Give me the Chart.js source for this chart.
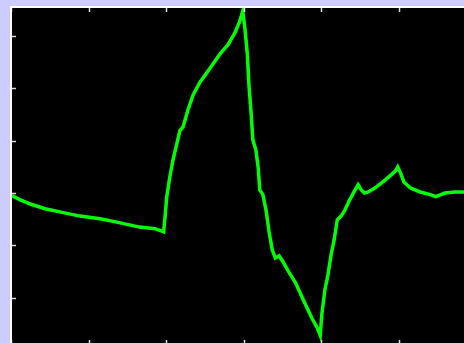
<!DOCTYPE html>
<html>
<head>
<meta charset="utf-8">
<script src="https://cdn.jsdelivr.net/npm/chart.js@4/dist/chart.umd.min.js"></script>
<style>
  html, body { margin: 0; padding: 0; background: #ccccff; overflow: hidden; }
  #wrap { position: absolute; left: 0; top: 0; }
</style>
</head>
<body>
<div id="wrap"><canvas id="c" width="476" height="346"></canvas></div>
<script>
// Signal trace samples (time, amplitude)
const timeValues = [
  0.01, 0.12, 0.25, 0.44, 0.63, 0.89, 1.15, 1.41, 1.66, 1.86, 1.97,
  1.99, 2.01, 2.05, 2.09, 2.12, 2.18, 2.22, 2.28, 2.35, 2.44, 2.50,
  2.59, 2.70, 2.80, 2.89, 2.95, 2.99, 3.02, 3.05, 3.07, 3.10, 3.12,
  3.16, 3.19, 3.21, 3.25, 3.29, 3.33, 3.37, 3.41, 3.46, 3.51, 3.57,
  3.67, 3.79, 3.88, 3.95, 3.99, 4.01, 4.05, 4.09, 4.13, 4.17, 4.21,
  4.26, 4.31, 4.37, 4.44, 4.48, 4.52, 4.56, 4.61, 4.70, 4.83, 4.96,
  4.99, 5.03, 5.07, 5.15, 5.28, 5.41, 5.48, 5.60, 5.73, 5.85, 6.00
];
const amplitudeValues = [
  -0.05, -0.13, -0.21, -0.30, -0.36, -0.44, -0.49, -0.57, -0.65, -0.68, -0.74,
  -0.42, -0.07, 0.31, 0.63, 0.82, 1.19, 1.26, 1.57, 1.87, 2.12, 2.24,
  2.43, 2.66, 2.83, 3.06, 3.27, 3.47, 3.12, 2.64, 2.07, 1.49, 1.02,
  0.82, 0.48, 0.06, -0.03, -0.32, -0.74, -1.08, -1.24, -1.20, -1.31, -1.47,
  -1.71, -2.10, -2.38, -2.57, -2.72, -2.32, -1.85, -1.56, -1.18, -0.89, -0.51,
  -0.44, -0.32, -0.13, 0.06, 0.16, 0.06, 0.00, 0.02, 0.10, 0.25, 0.42,
  0.50, 0.37, 0.21, 0.10, 0.02, -0.03, -0.07, 0.00, 0.02, 0.02, 0.02
];
// Axis tick positions
const timeTicks = [0, 1, 2, 3, 4, 5, 6];
const amplitudeTicks = [-2, -1, 0, 1, 2, 3];

const points = timeValues.map((t, i) => ({ x: t, y: amplitudeValues[i] }));

// Black plot background, white frame and inward tick marks
const framePlugin = {
  id: 'frame',
  beforeDraw(chart) {
    const { ctx, chartArea: a } = chart;
    ctx.save();
    ctx.fillStyle = '#000000';
    ctx.fillRect(a.left, a.top, a.right - a.left, a.bottom - a.top);
    ctx.restore();
  },
  afterDatasetsDraw(chart) {
    const { ctx, chartArea: a, scales } = chart;
    const len = 5;
    ctx.save();
    ctx.strokeStyle = '#dcdcdc';
    ctx.lineWidth = 1.5;
    ctx.beginPath();
    timeTicks.forEach(v => {
      const px = Math.round(scales.x.getPixelForValue(v)) + 0.5;
      ctx.moveTo(px, a.top); ctx.lineTo(px, a.top + len);
      ctx.moveTo(px, a.bottom); ctx.lineTo(px, a.bottom - len);
    });
    amplitudeTicks.forEach(v => {
      const py = Math.round(scales.y.getPixelForValue(v)) + 0.5;
      ctx.moveTo(a.left, py); ctx.lineTo(a.left + len, py);
      ctx.moveTo(a.right, py); ctx.lineTo(a.right - len, py);
    });
    ctx.stroke();
    ctx.strokeStyle = '#ffffff';
    ctx.lineWidth = 2;
    ctx.beginPath();
    ctx.moveTo(a.left, a.bottom);
    ctx.lineTo(a.left, a.top);
    ctx.lineTo(a.right, a.top);
    ctx.stroke();
    ctx.restore();
  }
};

new Chart(document.getElementById('c'), {
  type: 'line',
  data: {
    datasets: [{
      data: points,
      borderColor: '#00ff00',
      borderWidth: 3.5,
      pointRadius: 0,
      tension: 0,
      fill: false
    }]
  },
  options: {
    responsive: false,
    animation: false,
    layout: { padding: { left: 11, top: 7, right: 0, bottom: 1 } },
    scales: {
      x: { type: 'linear', min: 0, max: 6, display: false },
      y: { type: 'linear', min: -2.9, max: 3.55, display: false }
    },
    plugins: { legend: { display: false }, tooltip: { enabled: false } }
  },
  plugins: [framePlugin]
});
</script>
</body>
</html>
